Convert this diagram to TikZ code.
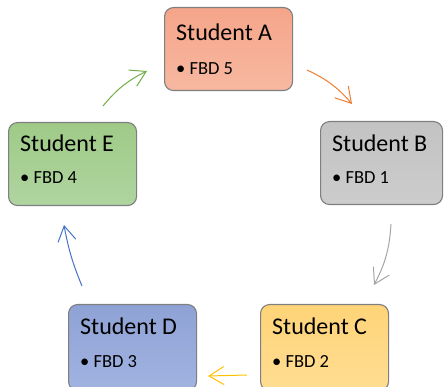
\documentclass[tikz,border=0pt]{standalone}
\usepackage{fontspec}
\setmainfont{Carlito}
\usetikzlibrary{arrows.meta, positioning}
\definecolor{boxborder}{HTML}{7F7F7F}
\definecolor{redtop}{HTML}{F5A589}
\definecolor{redbottom}{HTML}{F7B8A1}
\definecolor{graytop}{HTML}{C3C3C3}
\definecolor{graybottom}{HTML}{CCCCCC}
\definecolor{goldtop}{HTML}{FFD478}
\definecolor{goldbottom}{HTML}{FFDD92}
\definecolor{bluetop}{HTML}{8FA2D5}
\definecolor{bluebottom}{HTML}{A1B3E1}
\definecolor{greentop}{HTML}{9FCA87}
\definecolor{greenbottom}{HTML}{AFD5A0}
\definecolor{arroworange}{HTML}{ED7D31}
\definecolor{arrowgray}{HTML}{A5A5A5}
\definecolor{arrowgold}{HTML}{FFC000}
\definecolor{arrowblue}{HTML}{4472C4}
\definecolor{arrowgreen}{HTML}{70AD47}
\tikzstyle{studentbox} = [draw=boxborder, line width=1.1pt, rounded corners=9pt, minimum width=128pt, minimum height=83pt, anchor=north west, inner sep=0pt]
\tikzstyle{boxtitle} = [anchor=base west, inner sep=0pt, font=\fontsize{24}{28}\selectfont]
\tikzstyle{boxitem} = [anchor=base west, inner sep=0pt, font=\fontsize{18.5}{22}\selectfont]
\tikzstyle{flow} = [line width=1pt, -{Straight Barb[length=15pt, width=18pt]}]

\begin{document}
\begin{tikzpicture}[x=1pt, y=-1pt]
	\useasboundingbox (0,0) rectangle (445,387);
	% boxes
	\node[studentbox, top color=redtop, bottom color=redbottom] (boxA) at (164,7) {};
	\node[boxtitle] (titleA) at ([shift={(12,34)}]boxA.north west) {Student A};
	\node[boxitem] (itemA) at ([shift={(12,68)}]boxA.north west) {• FBD 5};
	\node[studentbox, minimum width=122pt, top color=graytop, bottom color=graybottom] (boxB) at (320,121) {};
	\node[boxtitle] (titleB) at ([shift={(12,31)}]boxB.north west) {Student B};
	\node[boxitem] (itemB) at ([shift={(12,63)}]boxB.north west) {• FBD 1};
	\node[studentbox, minimum height=86pt, top color=goldtop, bottom color=goldbottom] (boxC) at (260,304) {};
	\node[boxtitle] (titleC) at ([shift={(12,31)}]boxC.north west) {Student C};
	\node[boxitem] (itemC) at ([shift={(12,64)}]boxC.north west) {• FBD 2};
	\node[studentbox, minimum height=86pt, top color=bluetop, bottom color=bluebottom] (boxD) at (68,304) {};
	\node[boxtitle] (titleD) at ([shift={(12,31)}]boxD.north west) {Student D};
	\node[boxitem] (itemD) at ([shift={(12,64)}]boxD.north west) {• FBD 3};
	\node[studentbox, top color=greentop, bottom color=greenbottom] (boxE) at (8,122) {};
	\node[boxtitle] (titleE) at ([shift={(12,30)}]boxE.north west) {Student E};
	\node[boxitem] (itemE) at ([shift={(12,62)}]boxE.north west) {• FBD 4};
	% arrow ends
	\coordinate (ab1) at (307,70);
	\coordinate (ab2) at (352,104);
	\coordinate (bc1) at (391,224);
	\coordinate (bc2) at (374,285);
	\coordinate (cd1) at (247,375);
	\coordinate (cd2) at (208,376);
	\coordinate (de1) at (82,286);
	\coordinate (de2) at (64,225);
	\coordinate (ea1) at (103,106);
	\coordinate (ea2) at (147,71);
	% arrows
	\draw[flow, arroworange] (ab1) to[bend left=12] (ab2);
	\draw[flow, arrowgray] (bc1) to[bend left=12] (bc2);
	\draw[flow, arrowgold] (cd1) to (cd2);
	\draw[flow, arrowblue] (de1) to[bend left=6] (de2);
	\draw[flow, arrowgreen] (ea1) to[bend left=12] (ea2);
\end{tikzpicture}
\end{document}
